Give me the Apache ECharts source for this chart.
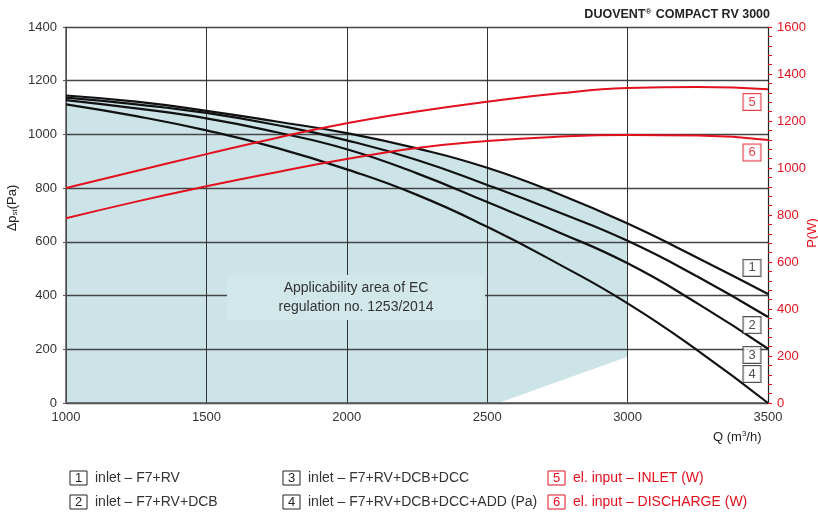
<!DOCTYPE html>
<html><head><meta charset="utf-8">
<script src="https://cdn.jsdelivr.net/npm/echarts@6/dist/echarts.min.js"></script>
<style>html,body{margin:0;padding:0;background:#fff}#c{width:818px;height:516px}</style>
</head><body><div id="c"></div>
<script>
// ---- data ----
const Q = [1000, 1250, 1500, 1750, 2000, 2250, 2500, 2750, 3000, 3250, 3500];
const xTicks = [1000, 1500, 2000, 2500, 3000, 3500];
const curve1 = [1145, 1122, 1088, 1048, 1005, 948, 876, 780, 668, 540, 406];   // inlet – F7+RV
const curve2 = [1137, 1112, 1080, 1035, 978, 905, 812, 712, 604, 470, 320];    // inlet – F7+RV+DCB
const curve3 = [1128, 1097, 1060, 1008, 945, 855, 748, 638, 520, 370, 202];    // inlet – F7+RV+DCB+DCC
const curve4 = [1112, 1068, 1015, 950, 870, 775, 656, 520, 371, 195, 0];       // + ADD
const power5 = [915, 987, 1059, 1128, 1190, 1240, 1282, 1317, 1340, 1345, 1335]; // el. input INLET (W)
const power6 = [786, 857, 922, 982, 1038, 1085, 1115, 1133, 1140, 1138, 1119];   // el. input DISCHARGE (W)
const shadeLimitQ = 3000;
const shadeCorner = [[3000, 172], [2540, 0]];
const tagPos = [[3443, 503, '1'], [3443, 290, '2'], [3443, 179, '3'], [3443, 108, '4']];
const tagPosW = [[3443, 1281, '5'], [3443, 1066, '6']];
const legendItems = [
  ['1', 'inlet – F7+RV', 0, 0], ['2', 'inlet – F7+RV+DCB', 0, 1],
  ['3', 'inlet – F7+RV+DCB+DCC', 1, 0], ['4', 'inlet – F7+RV+DCB+DCC+ADD (Pa)', 1, 1],
  ['5', 'el. input – INLET (W)', 2, 0], ['6', 'el. input – DISCHARGE (W)', 2, 1]
];

const RED = '#e3101e';
const FONT = '"Liberation Sans", Arial, Helvetica, sans-serif';
const pts = arr => Q.map((q, i) => [q, arr[i]]);
const plain = v => String(v);

const chart = echarts.init(document.getElementById('c'), null, {renderer: 'canvas'});

const shadePoly = [[1000, 0]].concat(Q.map((q, i) => [q, curve1[i]]).filter(p => p[0] <= shadeLimitQ)).concat(shadeCorner);

const blackLine = (name, arr) => ({
  name, type: 'line', data: pts(arr), smooth: true, symbol: 'none',
  lineStyle: {color: '#111', width: 2.2}, z: 5, silent: true
});
const redLine = (name, arr) => ({
  name, type: 'line', yAxisIndex: 1, data: pts(arr), smooth: true, symbol: 'none',
  lineStyle: {color: RED, width: 2}, z: 6, silent: true
});
const tagSeries = (data, axis, color) => ({
  type: 'scatter', yAxisIndex: axis, data: data, symbolSize: 1, itemStyle: {color: 'rgba(0,0,0,0)'}, z: 10, silent: true,
  label: {show: true, position: 'inside', formatter: p => p.data[2], color: color, fontFamily: FONT, fontSize: 13,
    borderColor: color, borderWidth: 1, backgroundColor: '#fff', padding: [1, 4, 0, 4], width: 9, height: 15, lineHeight: 15, align: 'center'}
});

const legendGraphics = [];
const colX = [70, 283, 548], rowY = [471, 495];
legendItems.forEach(([n, txt, c, r]) => {
  const col = c === 2 ? RED : '#222';
  const x = colX[c], y = rowY[r];
  legendGraphics.push({type: 'rect', shape: {x: x, y: y, width: 17, height: 14}, style: {fill: '#fff', stroke: col, lineWidth: 1}});
  legendGraphics.push({type: 'text', x: x + 8.5, y: y + 7.5, style: {text: n, fill: col, font: '13px ' + FONT, textAlign: 'center', textVerticalAlign: 'middle'}});
  legendGraphics.push({type: 'text', x: x + 25, y: y + 7.5, style: {text: txt, fill: c === 2 ? RED : '#333', font: '14px ' + FONT, textVerticalAlign: 'middle'}});
});

chart.setOption({
  animation: false,
  grid: {left: 66, right: 50, top: 27, bottom: 113, containLabel: false},
  title: {
    text: 'DUOVENT{s|®} COMPACT RV 3000', right: 43, top: 3,
    textStyle: {fontFamily: FONT, fontSize: 12.5, fontWeight: 'bold', color: '#222',
      rich: {s: {fontSize: 8, fontWeight: 'bold', verticalAlign: 'top', color: '#222', padding: [0, 1, 5, 0]}}}
  },
  xAxis: {
    type: 'value', min: 1000, max: 3500, interval: 500,
    axisLine: {show: true, lineStyle: {color: '#555', width: 1.5}},
    axisTick: {show: false},
    axisLabel: {color: '#333', fontFamily: FONT, fontSize: 13, margin: 8, formatter: plain},
    splitLine: {show: true, lineStyle: {color: '#333', width: 1}}
  },
  yAxis: [{
    type: 'value', min: 0, max: 1400, interval: 200,
    axisLine: {show: true, lineStyle: {color: '#555', width: 1.5}},
    axisTick: {show: true, length: 3, lineStyle: {color: '#555'}},
    axisLabel: {color: '#333', fontFamily: FONT, fontSize: 13, margin: 9, formatter: plain},
    splitLine: {show: true, lineStyle: {color: '#444', width: 1.3}}
  }, {
    type: 'value', min: 0, max: 1600, interval: 200, position: 'right',
    axisLine: {show: true, lineStyle: {color: '#222', width: 1.2}},
    axisTick: {show: true, inside: false, length: 4, lineStyle: {color: RED, width: 1.2}},
    minorTick: {show: true, splitNumber: 5, length: 4, lineStyle: {color: RED, width: 1}},
    axisLabel: {color: RED, fontFamily: FONT, fontSize: 13, margin: 9, formatter: plain},
    splitLine: {show: false}
  }],
  graphic: [
    {type: 'rect', shape: {x: 227, y: 275, width: 258, height: 45}, style: {fill: '#d2e7ea'}, z: 3},
    {type: 'text', x: 356, y: 298, z: 4, style: {text: 'Applicability area of EC\nregulation no. 1253/2014', fill: '#333', font: '14px ' + FONT, textAlign: 'center', textVerticalAlign: 'middle', lineHeight: 19}},
    {type: 'text', x: 12, y: 208, rotation: Math.PI / 2, style: {text: 'Δp{s|st}(Pa)', fill: '#222', font: '13px ' + FONT, textAlign: 'center', textVerticalAlign: 'middle',
      rich: {s: {fontSize: 8, fontFamily: FONT, fill: '#222', padding: [6, 0, 0, 0]}}}},
    {type: 'text', x: 812, y: 233, rotation: Math.PI / 2, style: {text: 'P(W)', fill: RED, font: '13px ' + FONT, textAlign: 'center', textVerticalAlign: 'middle'}},
    {type: 'text', x: 713, y: 437, style: {text: 'Q (m{s|3}/h)', fill: '#222', font: '13px ' + FONT, textVerticalAlign: 'middle',
      rich: {s: {fontSize: 8, fontFamily: FONT, fill: '#222', padding: [0, 0, 6, 0]}}}}
  ].concat(legendGraphics),
  series: [
    {
      type: 'custom', z: -1, silent: true, data: [0],
      renderItem: (params, api) => ({
        type: 'polygon', shape: {points: shadePoly.map(p => api.coord(p))},
        style: {fill: '#cce4e8'}
      })
    },
    blackLine('1', curve1), blackLine('2', curve2), blackLine('3', curve3), blackLine('4', curve4),
    redLine('5', power5), redLine('6', power6),
    tagSeries(tagPos, 0, '#222'), tagSeries(tagPosW, 1, RED)
  ]
});
</script></body></html>
